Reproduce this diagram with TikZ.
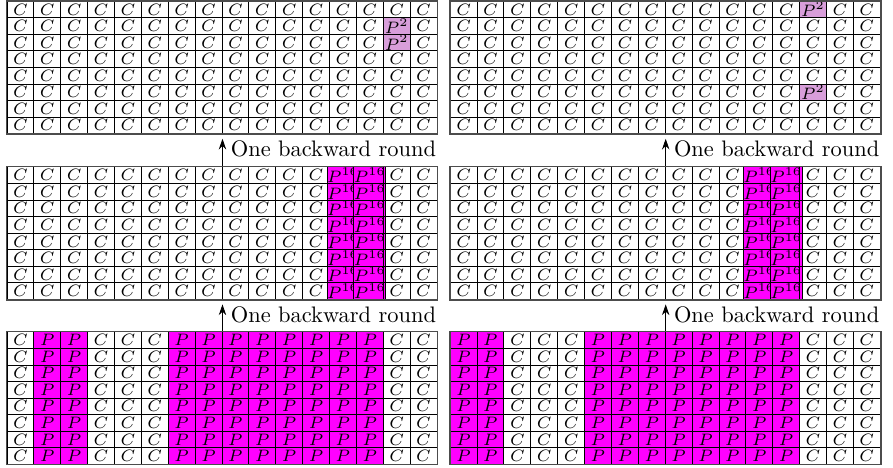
\documentclass[tikz,border=0pt]{standalone}
\usepackage{tikz}
\usetikzlibrary{arrows.meta, positioning, calc}
\definecolor{lightp}{RGB}{216,158,218}
\definecolor{pcol}{RGB}{255,0,255}
\newcommand{\celltxt}[1]{\if#1C$C$\else\if#1P$P$\else\if#1S$P^2$\else$P^{16}$\fi\fi\fi}
\newcommand{\marksq}[1]{\expandafter\def\csname sq@#1\endcsname{}}
% one 8x16 block of cells, #4 = kind of each column
\newcommand{\cgrid}[4]{%
  \foreach \k [count=\c from 0] in {#4}
    \foreach \r in {0,...,7}{
      \ifcsname sq@#1-\r-\c\endcsname\def\kk{S}\else\let\kk\k\fi
      \node[cell, kind\kk] (#1-\r-\c) at ({#2+0.4*\c+0.2},{#3-0.246*\r-0.123}) {\celltxt{\kk}};
    }
  \draw[frame] (#1-0-0.north west) rectangle (#1-7-15.south east);
}
\marksq{tl-1-14}\marksq{tl-2-14}
\marksq{tr-0-13}\marksq{tr-5-13}

\begin{document}
\begin{tikzpicture}[
  cell/.style={draw, thin, minimum width=0.4cm, minimum height=0.246cm, inner sep=0pt, font=\scriptsize},
  kindC/.style={},
  kindP/.style={fill=pcol},
  kindQ/.style={fill=pcol},
  kindS/.style={fill=lightp},
  frame/.style={draw=black!70, line width=0.7pt},
  uparr/.style={-{Stealth[length=1.6mm, width=1.1mm]}},
  lbl/.style={font=\fontsize{9.5}{11}\selectfont, yshift=1.5pt}]
  \useasboundingbox (0,0) rectangle (13.29,-6.964);
  % top row
  \cgrid{tl}{0.104}{-0.02}{C,C,C,C,C,C,C,C,C,C,C,C,C,C,C,C}
  \cgrid{tr}{6.70}{-0.02}{C,C,C,C,C,C,C,C,C,C,C,C,C,C,C,C}
  % middle row
  \cgrid{ml}{0.104}{-2.485}{C,C,C,C,C,C,C,C,C,C,C,C,Q,Q,C,C}
  \cgrid{mr}{6.70}{-2.485}{C,C,C,C,C,C,C,C,C,C,C,Q,Q,C,C,C}
  % bottom row
  \cgrid{bl}{0.104}{-4.94}{C,P,P,C,C,C,P,P,P,P,P,P,P,P,C,C}
  \cgrid{br}{6.70}{-4.94}{P,P,C,C,C,P,P,P,P,P,P,P,P,C,C,C}
  % arrows between rows
  \coordinate (tlend) at ($(tl-7-7.south east)+(0,-0.07)$);
  \coordinate (trend) at ($(tr-7-7.south east)+(0,-0.07)$);
  \coordinate (mlend) at ($(ml-7-7.south east)+(0,-0.07)$);
  \coordinate (mrend) at ($(mr-7-7.south east)+(0,-0.07)$);
  \draw[uparr] (ml-0-7.north east) -- (tlend) node[lbl, midway, right] (lab1) {One backward round};
  \draw[uparr] (mr-0-7.north east) -- (trend) node[lbl, midway, right] (lab2) {One backward round};
  \draw[uparr] (bl-0-7.north east) -- (mlend) node[lbl, midway, right] (lab3) {One backward round};
  \draw[uparr] (br-0-7.north east) -- (mrend) node[lbl, midway, right] (lab4) {One backward round};
\end{tikzpicture}
\end{document}
